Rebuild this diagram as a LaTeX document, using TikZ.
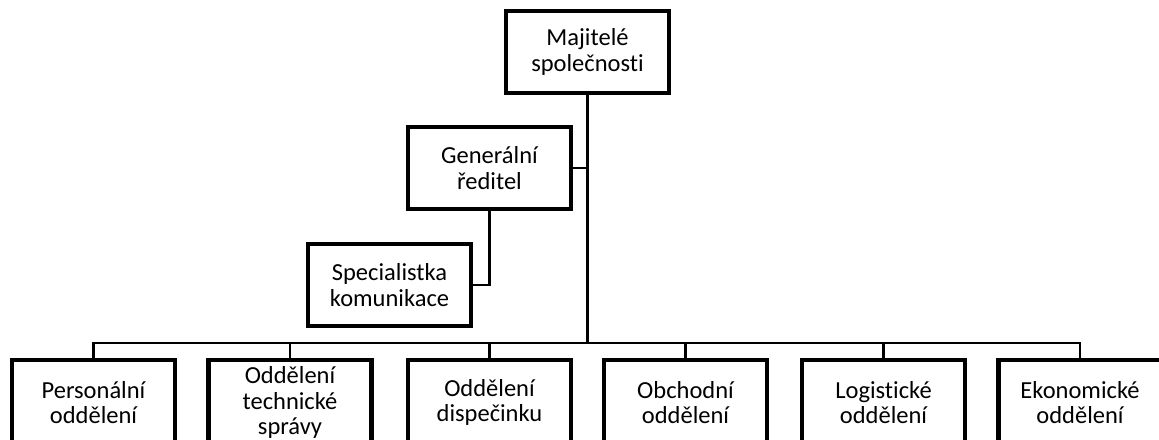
\documentclass[tikz,border=0pt]{standalone}
\usepackage{fontspec}
\setmainfont[Ligatures=NoCommon]{Carlito}
\usetikzlibrary{positioning,calc}

\tikzset{
  unit/.style={draw, line width=4.5pt, minimum width=163pt, minimum height=82pt,
    inner sep=0pt, align=center, font=\fontsize{24.5}{25.5}\selectfont},
  dept/.style={unit, minimum height=85pt},
  link/.style={line width=2.4pt},
  trunk/.style={line width=3.6pt}
}

\begin{document}
\begin{tikzpicture}[x=1pt,y=1pt]
  \useasboundingbox (0,0) rectangle (1159,439);
  %top
  \node[unit] (own) at (587.5,387) {Majitelé\\společnosti};
  \node[unit] (ceo) at (489.5,271) {Generální\\ředitel};
  \node[unit] (spec) at (389.5,154) {Specialistka\\komunikace};
  %departments
  \node[dept] (hr)  at (93.5,36.5)  {Personální\\oddělení};
  \node[dept] (tech) at (290,36.5)  {Oddělení\\technické\\správy};
  \node[dept] (disp) at (489.5,36.5) {Oddělení\\dispečinku};
  \node[dept] (sale) at (685.5,36.5) {Obchodní\\oddělení};
  \node[dept] (log) at (883.5,36.5)  {Logistické\\oddělení};
  \node[dept] (eco) at (1080,36.5)   {Ekonomické\\oddělení};
  \coordinate (bus) at (587.5,96);

  \draw[trunk] (own.south) -- (bus);
  \draw[link] (ceo.east) -- (ceo.east -| own.south);
  \draw[link] (ceo.south) |- (spec.east);
  \draw[link] (hr.north) |- (bus) -| (eco.north);
  \draw[link] (tech.north) -- (tech.north |- bus);
  \draw[link] (disp.north) -- (disp.north |- bus);
  \draw[link] (sale.north) -- (sale.north |- bus);
  \draw[link] (log.north) -- (log.north |- bus);
\end{tikzpicture}
\end{document}
